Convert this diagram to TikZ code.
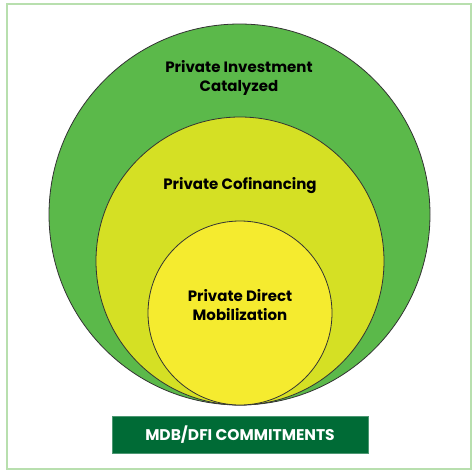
\documentclass[tikz,border=0pt]{standalone}
\usepackage{fontspec}
\setmainfont{Poppins}
\usepackage{xcolor}

\definecolor{outergreen}{HTML}{5BB94A}
\definecolor{midyellow}{HTML}{D5E024}
\definecolor{inneryellow}{HTML}{F5EB2F}
\definecolor{bannergreen}{HTML}{006B36}
\definecolor{framegreen}{HTML}{B8DFAE}

\tikzset{
    ring/.style={draw=black!80, line width=0.8pt},
    label/.style={font=\fontsize{15}{19}\selectfont\bfseries, align=center, text=black},
}

\begin{document}
\begin{tikzpicture}[x=1pt, y=-1pt]
        % Canvas
        \useasboundingbox (0,0) rectangle (472,471);
        \draw[framegreen, line width=1.5pt] (7,4) rectangle (471,469);

        % Define Centres
        \coordinate (C1) at (239.5,214.5);
        \coordinate (C2) at (240,261);
        \coordinate (C3) at (240,313);

        % Draw Circles
        \fill[outergreen] (C1) circle (190.5);
        \draw[ring] (C1) circle (190.5);
        \fill[midyellow] (C2) circle (144);
        \draw[ring] (C2) circle (144);
        \fill[inneryellow] (C3) circle (92);
        \draw[ring] (C3) circle (92);

        % Circle Labels
        \node[label] (catalyzed) at (239,77.5) {Private Investment\\Catalyzed};
        \node[label] (cofinancing) at (240,186) {Private Cofinancing};
        \node[label] (mobilization) at (240,305.5) {Private Direct\\Mobilization};

        % Commitments Banner
        \node[fill=bannergreen, draw=bannergreen!70!white, line width=0.5pt,
              minimum width=256pt, minimum height=37pt, inner sep=0pt,
              text=white, font=\fontsize{15.5}{18}\selectfont\bfseries]
              (commitments) at (240,434.5) {MDB/DFI COMMITMENTS};

\end{tikzpicture}
\end{document}
